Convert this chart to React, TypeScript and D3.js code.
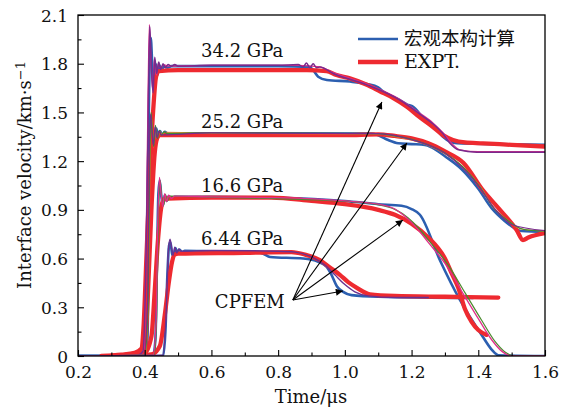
import * as d3 from 'd3';
import { useEffect, useRef } from 'react';

type Pt = [number, number];

// tick values
const xTicks = [0.2, 0.4, 0.6, 0.8, 1.0, 1.2, 1.4, 1.6];
const yTicks = [0, 0.3, 0.6, 0.9, 1.2, 1.5, 1.8, 2.1];

// 34.2 GPa
const expt342: Pt[] = [[0.27, 0], [0.33, 0.008], [0.37, 0.02], [0.39, 0.045], [0.397, 0.2], [0.405, 0.6], [0.415, 1.1], [0.425, 1.5], [0.434, 1.72], [0.442, 1.755], [0.5, 1.76], [0.7, 1.76], [0.886, 1.76], [0.945, 1.755], [0.975, 1.73], [1.015, 1.71], [1.066, 1.67], [1.105, 1.63], [1.144, 1.59], [1.186, 1.535], [1.225, 1.47], [1.264, 1.41], [1.294, 1.36], [1.324, 1.33], [1.36, 1.315], [1.414, 1.31], [1.5, 1.3], [1.6, 1.29]];
const macro342: Pt[] = [[0.2, 0], [0.39, 0], [0.4, 0.05], [0.407, 0.7], [0.413, 1.6], [0.418, 1.96], [0.423, 1.78], [0.428, 1.66], [0.433, 1.8], [0.438, 1.73], [0.444, 1.79], [0.45, 1.76], [0.458, 1.785], [0.468, 1.775], [0.48, 1.785], [0.6, 1.785], [0.8, 1.785], [0.895, 1.78], [0.905, 1.76], [0.92, 1.72], [0.946, 1.7], [1.015, 1.69], [1.066, 1.675], [1.1, 1.655], [1.114, 1.63], [1.165, 1.576], [1.186, 1.55], [1.205, 1.535], [1.234, 1.47], [1.264, 1.42], [1.294, 1.35], [1.315, 1.32], [1.336, 1.31], [1.45, 1.305], [1.6, 1.3]];
const cpfem342a: Pt[] = [[0.2, 0], [0.38, 0.005], [0.395, 0.03], [0.403, 0.5], [0.41, 1.4], [0.415, 2.03], [0.42, 1.78], [0.425, 1.62], [0.43, 1.84], [0.436, 1.74], [0.442, 1.81], [0.448, 1.765], [0.455, 1.8], [0.462, 1.775], [0.47, 1.795], [0.48, 1.785], [0.49, 1.795], [0.5, 1.785], [0.6, 1.79], [0.7, 1.79], [0.8, 1.79], [0.86, 1.795], [0.875, 1.78], [0.885, 1.805], [0.895, 1.775], [0.905, 1.8], [0.915, 1.775], [0.925, 1.78], [0.965, 1.74], [1.066, 1.67], [1.165, 1.576], [1.225, 1.49], [1.264, 1.43], [1.294, 1.37], [1.315, 1.31], [1.34, 1.27], [1.396, 1.255], [1.6, 1.255]];
const cpfem342b: Pt[] = [[0.2, 0], [0.385, 0.005], [0.398, 0.05], [0.405, 0.8], [0.41, 1.6], [0.414, 2.04], [0.419, 1.8], [0.424, 1.64], [0.429, 1.83], [0.435, 1.73], [0.441, 1.8], [0.448, 1.77], [0.456, 1.795], [0.47, 1.785], [0.6, 1.79], [0.86, 1.79], [0.925, 1.78], [0.965, 1.745], [1.066, 1.675], [1.165, 1.58], [1.225, 1.495], [1.264, 1.435], [1.294, 1.375], [1.32, 1.31], [1.345, 1.27], [1.4, 1.258], [1.6, 1.258]];

// 25.2 GPa
const expt252: Pt[] = [[0.3, 0], [0.39, 0.02], [0.4, 0.05], [0.41, 0.4], [0.42, 0.9], [0.43, 1.25], [0.437, 1.34], [0.445, 1.36], [0.6, 1.36], [1.0, 1.36], [1.1, 1.365], [1.15, 1.355], [1.2, 1.34], [1.25, 1.31], [1.3, 1.26], [1.355, 1.19], [1.414, 1.02], [1.465, 0.9], [1.515, 0.776], [1.534, 0.714], [1.55, 0.73], [1.6, 0.757]];
const macro252: Pt[] = [[0.2, 0], [0.4, 0], [0.408, 0.1], [0.413, 0.8], [0.417, 1.45], [0.421, 1.48], [0.425, 1.33], [0.43, 1.3], [0.435, 1.4], [0.44, 1.35], [0.446, 1.385], [0.453, 1.36], [0.46, 1.38], [0.47, 1.37], [0.6, 1.372], [1.08, 1.37], [1.1, 1.36], [1.13, 1.33], [1.16, 1.31], [1.2, 1.305], [1.24, 1.3], [1.26, 1.285], [1.3, 1.23], [1.35, 1.15], [1.4, 1.03], [1.44, 0.91], [1.48, 0.83], [1.51, 0.785], [1.53, 0.77], [1.6, 0.765]];
const cpfem252a: Pt[] = [[0.2, 0], [0.4, 0.005], [0.41, 0.3], [0.415, 1.2], [0.419, 1.5], [0.423, 1.38], [0.427, 1.29], [0.432, 1.42], [0.438, 1.34], [0.444, 1.39], [0.45, 1.36], [0.458, 1.38], [0.468, 1.37], [0.6, 1.375], [1.1, 1.37], [1.15, 1.355], [1.2, 1.335], [1.25, 1.3], [1.3, 1.25], [1.354, 1.164], [1.405, 1.04], [1.444, 0.917], [1.486, 0.837], [1.525, 0.787], [1.55, 0.775], [1.6, 0.77]];
const cpfem252b: Pt[] = [[0.2, 0], [0.402, 0.005], [0.411, 0.4], [0.416, 1.25], [0.42, 1.47], [0.424, 1.36], [0.428, 1.31], [0.433, 1.4], [0.439, 1.35], [0.445, 1.385], [0.452, 1.365], [0.46, 1.378], [0.6, 1.372], [1.1, 1.368], [1.15, 1.352], [1.2, 1.33], [1.25, 1.296], [1.3, 1.245], [1.356, 1.16], [1.408, 1.035], [1.447, 0.91], [1.49, 0.832], [1.53, 0.782], [1.6, 0.768]];
const cpfem252c: Pt[] = [[0.2, 0], [0.398, 0.005], [0.409, 0.35], [0.414, 1.3], [0.418, 1.49], [0.422, 1.37], [0.426, 1.3], [0.431, 1.41], [0.437, 1.345], [0.443, 1.385], [0.45, 1.362], [0.6, 1.374], [1.1, 1.369], [1.2, 1.332], [1.3, 1.248], [1.4, 1.05], [1.45, 0.905], [1.5, 0.81], [1.6, 0.772]];

// 16.6 GPa
const expt166: Pt[] = [[0.3, 0], [0.4, 0.02], [0.42, 0.12], [0.43, 0.4], [0.44, 0.72], [0.45, 0.92], [0.458, 0.965], [0.47, 0.97], [0.6, 0.975], [0.78, 0.975], [0.9, 0.955], [1.0, 0.935], [1.1, 0.9], [1.15, 0.87], [1.2, 0.815], [1.25, 0.73], [1.3, 0.6], [1.32, 0.51], [1.34, 0.42], [1.36, 0.29], [1.38, 0.21], [1.4, 0.16], [1.425, 0.13]];
const macro166: Pt[] = [[0.2, 0], [0.425, 0], [0.432, 0.1], [0.437, 0.6], [0.441, 1.0], [0.445, 1.08], [0.45, 0.98], [0.455, 0.93], [0.46, 0.99], [0.466, 0.955], [0.472, 0.985], [0.48, 0.97], [0.49, 0.98], [0.6, 0.98], [0.8, 0.975], [1.0, 0.955], [1.1, 0.935], [1.17, 0.925], [1.2, 0.905], [1.225, 0.87], [1.285, 0.59], [1.345, 0.345], [1.414, 0.117], [1.44, 0.04], [1.46, 0.005], [1.6, 0]];
const cpfem166a: Pt[] = [[0.2, 0], [0.425, 0.005], [0.434, 0.2], [0.439, 0.8], [0.444, 1.1], [0.449, 1.0], [0.454, 0.92], [0.46, 1.0], [0.466, 0.95], [0.472, 0.99], [0.48, 0.97], [0.49, 0.985], [0.6, 0.98], [0.8, 0.975], [1.0, 0.955], [1.1, 0.935], [1.15, 0.905], [1.18, 0.86], [1.21, 0.8], [1.25, 0.7], [1.3, 0.57], [1.35, 0.4], [1.4, 0.23], [1.44, 0.1], [1.47, 0.03], [1.5, 0], [1.6, 0]];
const cpfem166b: Pt[] = [[0.2, 0], [0.428, 0.005], [0.436, 0.25], [0.441, 0.85], [0.446, 1.08], [0.451, 0.98], [0.456, 0.925], [0.462, 0.995], [0.468, 0.955], [0.475, 0.985], [0.6, 0.978], [1.0, 0.953], [1.1, 0.932], [1.15, 0.903], [1.19, 0.85], [1.22, 0.79], [1.26, 0.69], [1.31, 0.56], [1.36, 0.39], [1.41, 0.22], [1.45, 0.09], [1.48, 0.025], [1.51, 0], [1.6, 0]];

// 6.44 GPa
const expt644: Pt[] = [[0.33, 0], [0.42, 0.01], [0.445, 0.06], [0.46, 0.25], [0.472, 0.45], [0.482, 0.58], [0.49, 0.625], [0.5, 0.63], [0.7, 0.635], [0.84, 0.64], [0.88, 0.625], [0.925, 0.59], [0.955, 0.545], [0.985, 0.5], [1.01, 0.455], [1.036, 0.42], [1.075, 0.38], [1.15, 0.37], [1.3, 0.365], [1.46, 0.36]];
const macro644: Pt[] = [[0.2, 0], [0.455, 0], [0.462, 0.15], [0.468, 0.5], [0.473, 0.68], [0.477, 0.7], [0.482, 0.63], [0.487, 0.61], [0.492, 0.665], [0.498, 0.635], [0.504, 0.655], [0.512, 0.64], [0.52, 0.648], [0.6, 0.645], [0.74, 0.64], [0.755, 0.63], [0.776, 0.61], [0.875, 0.6], [0.92, 0.58], [0.945, 0.55], [0.96, 0.5], [0.976, 0.43], [0.995, 0.395], [1.02, 0.375], [1.1, 0.365], [1.384, 0.357]];
const cpfem644: Pt[] = [[0.2, 0], [0.455, 0.005], [0.465, 0.3], [0.471, 0.65], [0.476, 0.72], [0.481, 0.66], [0.485, 0.62], [0.49, 0.67], [0.496, 0.635], [0.502, 0.66], [0.51, 0.645], [0.6, 0.65], [0.8, 0.645], [0.85, 0.64], [0.9, 0.61], [0.94, 0.56], [0.97, 0.5], [1.0, 0.44], [1.03, 0.395], [1.07, 0.37], [1.15, 0.36], [1.25, 0.36]];

// pressure labels [text, time, velocity]
const pressureLabels: [string, number, number][] = [
    ['34.2 GPa', 0.692, 1.84],
    ['25.2 GPa', 0.692, 1.405],
    ['16.6 GPa', 0.692, 1.01],
    ['6.44 GPa', 0.692, 0.683],
];

// CPFEM annotation arrows
const arrowFrom: Pt = [0.844, 0.345];
const arrowTo: Pt[] = [[1.111, 1.564], [1.186, 1.312], [1.174, 0.837], [0.994, 0.4]];

const RED = '#ee2a30';
const BLUE = '#2c5fb0';

export default function App() {
    const ref = useRef<any>();

    useEffect(() => {
        const width = 573;
        const height = 412;
        const margin = { top: 15, right: 28, bottom: 56, left: 78 };

        const svg = d3.select(ref.current);
        svg.selectAll('*').remove();

        const x = d3.scaleLinear().domain([0.2, 1.6]).range([margin.left, width - margin.right]);
        const y = d3.scaleLinear().domain([0, 2.1]).range([height - margin.bottom, margin.top]);

        const defs = svg.append('defs');
        defs.append('clipPath').attr('id', 'plot')
            .append('rect')
            .attr('x', margin.left).attr('y', margin.top - 2)
            .attr('width', width - margin.left - margin.right)
            .attr('height', height - margin.top - margin.bottom + 2);
        defs.append('marker')
            .attr('id', 'head')
            .attr('viewBox', '0 0 10 10')
            .attr('refX', 10).attr('refY', 5)
            .attr('markerWidth', 9).attr('markerHeight', 7)
            .attr('markerUnits', 'userSpaceOnUse')
            .attr('orient', 'auto')
            .append('path').attr('d', 'M0,0L10,5L0,10z').attr('fill', '#000');

        const line = d3.line<Pt>()
            .x(d => x(d[0]))
            .y(d => y(d[1]))
            .curve(d3.curveMonotoneX);

        const plot = svg.append('g').attr('clip-path', 'url(#plot)');

        const series: [Pt[], string, number][] = [
            [macro342, BLUE, 2.6], [macro252, BLUE, 2.6], [macro166, BLUE, 2.6], [macro644, BLUE, 2.6],
            [expt342, RED, 4.3], [expt252, RED, 4.3], [expt166, RED, 4.3], [expt644, RED, 4.3],
            [cpfem342b, '#e0308a', 1.3], [cpfem342a, '#7a2a8c', 1.5],
            [cpfem252b, '#d98a2b', 1.2], [cpfem252a, '#3f8a2e', 1.2], [cpfem252c, '#7a2a8c', 1.2],
            [cpfem166b, '#4a8a2e', 1.2], [cpfem166a, '#e0308a', 1.3],
            [cpfem644, '#6a3090', 1.4],
        ];

        plot.selectAll('.curve')
            .data(series)
            .join('path')
            .attr('class', 'curve')
            .attr('d', d => line(d[0]))
            .attr('fill', 'none')
            .attr('stroke', d => d[1])
            .attr('stroke-width', d => d[2])
            .attr('stroke-linejoin', 'round')
            .attr('stroke-linecap', 'round');

        // frame
        svg.append('rect')
            .attr('x', margin.left).attr('y', margin.top)
            .attr('width', width - margin.left - margin.right)
            .attr('height', height - margin.top - margin.bottom)
            .attr('fill', 'none').attr('stroke', '#000').attr('stroke-width', 1.3);

        // axes with inward ticks
        const xAxis = d3.axisBottom(x).tickValues(xTicks).tickSize(-6).tickPadding(10)
            .tickFormat(d => d3.format('.1f')(d as number));
        const gx = svg.append('g').attr('transform', `translate(0,${height - margin.bottom})`).call(xAxis);
        const xMinor = d3.axisBottom(x).tickValues(xTicks.slice(0, -1).map((d, i) => (d + xTicks[i + 1]) / 2))
            .tickSize(-3.5).tickFormat(() => '');
        const gxm = svg.append('g').attr('transform', `translate(0,${height - margin.bottom})`).call(xMinor);

        const yAxis = d3.axisLeft(y).tickValues(yTicks).tickSize(-6).tickPadding(10)
            .tickFormat(d => (d === 0 ? '0' : d3.format('.1f')(d as number)));
        const gy = svg.append('g').attr('transform', `translate(${margin.left},0)`).call(yAxis);
        const yMinor = d3.axisLeft(y).tickValues(yTicks.slice(0, -1).map((d, i) => (d + yTicks[i + 1]) / 2))
            .tickSize(-3.5).tickFormat(() => '');
        const gym = svg.append('g').attr('transform', `translate(${margin.left},0)`).call(yMinor);

        [gx, gxm, gy, gym].forEach(g => {
            g.select('.domain').remove();
            g.selectAll('line').attr('stroke', '#000').attr('stroke-width', 1.1);
            g.selectAll('text')
                .attr('fill', '#111')
                .style('font-family', '"DejaVu Serif", serif')
                .style('font-size', '17px');
        });
        gy.selectAll('text').attr('dy', '0.36em');

        // pressure labels
        svg.selectAll('.plabel')
            .data(pressureLabels)
            .join('text')
            .attr('class', 'plabel')
            .attr('x', d => x(d[1]))
            .attr('y', d => y(d[2]))
            .attr('text-anchor', 'middle')
            .style('font-family', '"DejaVu Serif", serif')
            .style('font-size', '18px')
            .attr('fill', '#111')
            .text(d => d[0]);

        // CPFEM arrows
        svg.selectAll('.arrow')
            .data(arrowTo)
            .join('line')
            .attr('class', 'arrow')
            .attr('x1', x(arrowFrom[0])).attr('y1', y(arrowFrom[1]))
            .attr('x2', d => x(d[0])).attr('y2', d => y(d[1]))
            .attr('stroke', '#000').attr('stroke-width', 1.1)
            .attr('marker-end', 'url(#head)');
        svg.append('text')
            .attr('x', x(arrowFrom[0]) - 8).attr('y', y(arrowFrom[1]) + 8)
            .attr('text-anchor', 'end')
            .style('font-family', '"DejaVu Serif", serif')
            .style('font-size', '18px')
            .attr('fill', '#111')
            .text('CPFEM');

        // legend
        const legend = svg.append('g');
        const items: [string, string, number, string][] = [
            ['宏观本构计算', BLUE, 2.6, '"Noto Sans CJK SC", sans-serif'],
            ['EXPT.', RED, 4.3, '"DejaVu Serif", serif'],
        ];
        items.forEach((it, i) => {
            const ly = 39 + i * 23;
            legend.append('line')
                .attr('x1', 358).attr('x2', 398).attr('y1', ly).attr('y2', ly)
                .attr('stroke', it[1]).attr('stroke-width', it[2]);
            legend.append('text')
                .attr('x', 404).attr('y', ly + 6)
                .style('font-family', it[3])
                .style('font-size', i === 0 ? '18.5px' : '19px')
                .attr('fill', '#111')
                .text(it[0]);
        });

        // axis titles
        svg.append('text')
            .attr('x', 311).attr('y', 403)
            .attr('text-anchor', 'middle')
            .style('font-family', '"DejaVu Serif", serif')
            .style('font-size', '18px')
            .attr('fill', '#111')
            .text('Time/μs');

        const yt = svg.append('text')
            .attr('transform', 'translate(31,175) rotate(-90)')
            .attr('text-anchor', 'middle')
            .style('font-family', '"DejaVu Serif", serif')
            .style('font-size', '18px')
            .attr('fill', '#111');
        yt.append('tspan').text('Interface velocity/km·s');
        yt.append('tspan').attr('dy', '-0.45em').style('font-size', '13px').text('−1');
    }, []);

    return (
        <svg ref={ref} width={573} height={412}
            style={{ position: 'absolute', left: 0, top: 0, background: '#fff' }} />
    );
}
